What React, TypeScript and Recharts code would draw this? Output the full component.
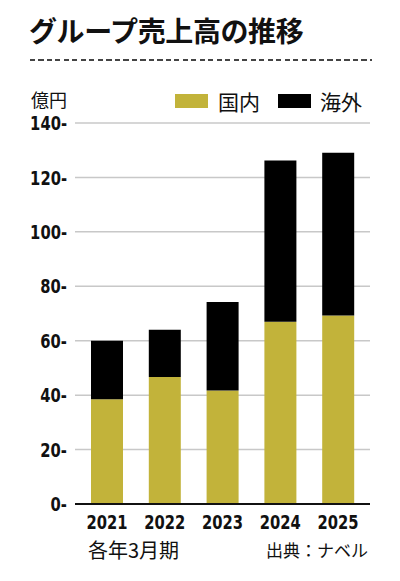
import { BarChart, Bar, XAxis, YAxis, CartesianGrid } from "recharts";

const years = ["2021", "2022", "2023", "2024", "2025"];
const domestic = [38.5, 46.7, 41.7, 67, 69.3];
const overseas = [21.5, 17.3, 32.5, 59.2, 59.8];
const yTicks = [0, 20, 40, 60, 80, 100, 120, 140];

const OLIVE = "#C2B33A";
const BLACK = "#000000";
const JP = "'Noto Sans CJK JP', 'Noto Sans', sans-serif";
const NUM = "'DejaVu Sans Condensed', 'DejaVu Sans', sans-serif";

const data = years.map((y, i) => ({
  year: y,
  domestic: domestic[i],
  overseas: overseas[i],
}));

// narrow bold numerals, squeezed a bit to look like the condensed face in the original
function YTick(props: any) {
  const { x, y, payload } = props;
  return (
    <g transform={`translate(${x},${y})`}>
      <text
        transform="scale(0.82,1)"
        textAnchor="end"
        dy="0.36em"
        fill="#111"
        fontSize={20}
        fontWeight={700}
        fontFamily={NUM}
      >
        {`${payload.value}-`}
      </text>
    </g>
  );
}

function XTick(props: any) {
  const { x, y, payload } = props;
  return (
    <g transform={`translate(${x},${y})`}>
      <text
        transform="scale(0.82,1)"
        textAnchor="middle"
        dy={17}
        fill="#111"
        fontSize={20}
        fontWeight={700}
        fontFamily={NUM}
      >
        {payload.value}
      </text>
    </g>
  );
}

export default function App() {
  return (
    <div
      style={{
        position: "absolute",
        left: 0,
        top: 0,
        width: 400,
        height: 581,
        background: "#fff",
        fontFamily: JP,
        color: "#111",
      }}
    >
      <div
        style={{
          position: "absolute",
          left: 29,
          top: 10,
          fontSize: 28,
          fontWeight: 700,
          lineHeight: "40px",
          letterSpacing: -0.4,
        }}
      >
        グループ売上高の推移
      </div>
      <div
        style={{
          position: "absolute",
          left: 30,
          top: 59,
          width: 342,
          height: 1.6,
          backgroundImage: "repeating-linear-gradient(to right, #444 0 5px, transparent 5px 8.5px)",
        }}
      />
      <div style={{ position: "absolute", left: 31, top: 86, fontSize: 18, lineHeight: "26px" }}>
        億円
      </div>
      <div
        style={{
          position: "absolute",
          left: 175,
          top: 88,
          display: "flex",
          alignItems: "center",
          fontSize: 21,
          lineHeight: "26px",
        }}
      >
        <span style={{ width: 33, height: 14, background: OLIVE, marginRight: 10 }} />
        <span>国内</span>
        <span style={{ width: 33, height: 14, background: BLACK, marginLeft: 18, marginRight: 9 }} />
        <span>海外</span>
      </div>

      <div style={{ position: "absolute", left: 0, top: 0 }}>
        <BarChart
          width={400}
          height={581}
          data={data}
          margin={{ top: 123, right: 30, bottom: 47, left: 0 }}
          barSize={32}
        >
          <CartesianGrid vertical={false} stroke="#c8c8c8" strokeWidth={1.5} />
          <XAxis
            dataKey="year"
            height={30}
            padding={{ left: 3, right: 3 }}
            tickLine={false}
            axisLine={{ stroke: "#111", strokeWidth: 2 }}
            tickMargin={2}
            tick={<XTick />}
          />
          <YAxis
            width={75}
            domain={[0, 140]}
            ticks={yTicks}
            interval={0}
            tickLine={false}
            axisLine={false}
            tick={<YTick />}
          />
          <Bar dataKey="domestic" stackId="a" fill={OLIVE} isAnimationActive={false} />
          <Bar dataKey="overseas" stackId="a" fill={BLACK} isAnimationActive={false} />
        </BarChart>
      </div>

      <div style={{ position: "absolute", left: 88, top: 537, fontSize: 20, lineHeight: "26px" }}>
        各年3月期
      </div>
      <div style={{ position: "absolute", left: 266, top: 538, fontSize: 17, lineHeight: "24px" }}>
        出典：ナベル
      </div>
    </div>
  );
}
